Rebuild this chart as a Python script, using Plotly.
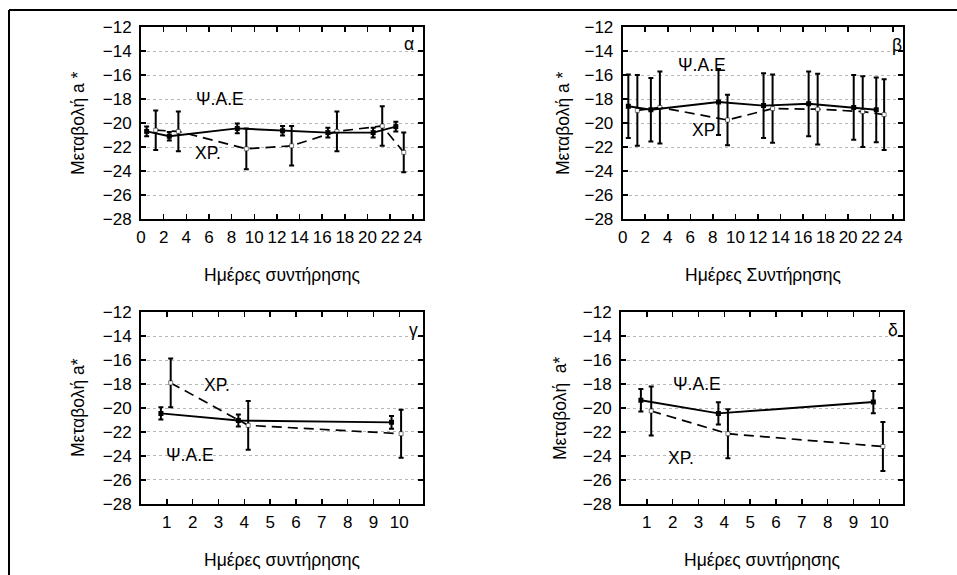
import plotly.graph_objects as go

W, H = 957, 575

# ---- data ----
a_psi_x = [0.5, 2.5, 8.5, 12.5, 16.5, 20.5, 22.5]
a_psi_y = [-20.7, -21.1, -20.45, -20.65, -20.8, -20.8, -20.3]
a_psi_e = [0.4, 0.35, 0.4, 0.4, 0.4, 0.4, 0.4]
a_xr_x = [1.3, 3.3, 9.3, 13.3, 17.3, 21.3, 23.2]
a_xr_y = [-20.6, -20.7, -22.15, -21.9, -20.7, -20.25, -22.45]
a_xr_e = [1.65, 1.65, 1.7, 1.65, 1.65, 1.65, 1.65]
b_psi_x = [0.5, 2.5, 8.5, 12.5, 16.5, 20.5, 22.5]
b_psi_y = [-18.6, -18.9, -18.25, -18.55, -18.4, -18.7, -18.9]
b_psi_e = [2.65, 2.65, 2.75, 2.7, 2.7, 2.7, 2.7]
b_xr_x = [1.3, 3.3, 9.3, 13.3, 17.3, 21.3, 23.2]
b_xr_y = [-18.95, -18.7, -19.75, -18.8, -18.85, -19.05, -19.3]
b_xr_e = [2.95, 3.0, 2.1, 2.85, 2.95, 2.95, 2.95]
g_psi_x = [0.77, 3.77, 9.7]
g_psi_y = [-20.45, -21.05, -21.2]
g_psi_e = [0.52, 0.5, 0.53]
g_xr_x = [1.15, 4.15, 10.07]
g_xr_y = [-17.9, -21.45, -22.15]
g_xr_e = [2.04, 2.03, 2.0]
d_psi_x = [0.77, 3.77, 9.77]
d_psi_y = [-19.35, -20.45, -19.5]
d_psi_e = [0.94, 0.93, 0.93]
d_xr_x = [1.17, 4.14, 10.14]
d_xr_y = [-20.25, -22.15, -23.22]
d_xr_e = [2.05, 2.05, 2.04]

y_ticks = [-12, -14, -16, -18, -20, -22, -24, -26, -28]
x_ticks_long = list(range(0, 25, 2))
x_ticks_short = list(range(1, 11))

label_psi = "Ψ.Α.Ε"
label_xr = "ΧΡ."

FONT = "Liberation Sans, Arial, sans-serif"

def px(x):
    return x / W

def py(y):
    return 1 - y / H

boxes = [
    (141, 423, 27, 219),
    (622.7, 903.3, 27, 219),
    (141, 423.3, 312.3, 503.7),
    (621, 903.3, 312.3, 503.7),
]

panels = [
    dict(psi=(a_psi_x, a_psi_y, a_psi_e), xr=(a_xr_x, a_xr_y, a_xr_e), long=True,
         letter="α", letter_pos=(23.7, -13.4),
         psi_lab=(7.0, -18.0), xr_lab=(5.9, -22.5),
         xtitle="Ημέρες συντήρησης", ytitle="Μεταβολή a *", ytx=78),
    dict(psi=(b_psi_x, b_psi_y, b_psi_e), xr=(b_xr_x, b_xr_y, b_xr_e), long=True,
         letter="β", letter_pos=(24.3, -13.5),
         psi_lab=(7.0, -15.2), xr_lab=(7.2, -20.6), xr_text="ΧΡ",
         xtitle="Ημέρες Συντήρησης", ytitle="Μεταβολή a *", ytx=563),
    dict(psi=(g_psi_x, g_psi_y, g_psi_e), xr=(g_xr_x, g_xr_y, g_xr_e), long=False,
         letter="γ", letter_pos=(10.55, -13.5),
         psi_lab=(1.9, -23.9), xr_lab=(2.93, -18.06),
         xtitle="Ημέρες συντήρησης", ytitle="Μεταβολή a*", ytx=78),
    dict(psi=(d_psi_x, d_psi_y, d_psi_e), xr=(d_xr_x, d_xr_y, d_xr_e), long=False,
         letter="δ", letter_pos=(10.55, -13.5),
         psi_lab=(2.94, -18.0), xr_lab=(2.33, -24.2),
         xtitle="Ημέρες συντήρησης", ytitle="Μεταβολή  a*", ytx=560),
]

fig = go.Figure()
annotations = []
layout = {}

for i, (p, box) in enumerate(zip(panels, boxes), start=1):
    sx = "" if i == 1 else str(i)
    xa, ya = "x" + sx, "y" + sx
    l, r, t, b = box
    xx, yy, ee = p["xr"]
    fig.add_trace(go.Scatter(
        x=xx, y=yy, xaxis=xa, yaxis=ya, mode="lines+markers",
        line=dict(color="black", width=1.7, dash="10px,6px"),
        marker=dict(symbol="square", size=4, color="white",
                    line=dict(color="black", width=0.5)),
        error_y=dict(type="data", array=ee, visible=True, color="black",
                     thickness=2, width=2.5),
        showlegend=False, hoverinfo="skip"))
    xx, yy, ee = p["psi"]
    fig.add_trace(go.Scatter(
        x=xx, y=yy, xaxis=xa, yaxis=ya, mode="lines+markers",
        line=dict(color="black", width=1.9),
        marker=dict(symbol="square", size=5, color="black"),
        error_y=dict(type="data", array=ee, visible=True, color="black",
                     thickness=2, width=2.5),
        showlegend=False, hoverinfo="skip"))

    if p["long"]:
        xcfg = dict(range=[0, 24.9], tickvals=x_ticks_long)
    else:
        xcfg = dict(range=[0, 10.93], tickvals=x_ticks_short)
    layout["xaxis" + sx] = dict(
        domain=[px(l), px(r)], anchor=ya, showgrid=False, zeroline=False,
        showline=True, linecolor="black", linewidth=2, mirror="ticks",
        ticks="inside", ticklen=5, tickwidth=1.5, tickcolor="black",
        ticklabelstandoff=2, automargin=False,
        tickfont=dict(size=17, color="black", family=FONT), **xcfg)
    layout["yaxis" + sx] = dict(
        domain=[py(b), py(t)], anchor=xa, range=[-28, -12], tickvals=y_ticks,
        showgrid=True, gridcolor="#b8b8b8", griddash="dot", gridwidth=1,
        zeroline=False, showline=True, linecolor="black", linewidth=2,
        mirror="ticks", ticks="inside", ticklen=5, tickwidth=1.5,
        tickcolor="black", ticklabelstandoff=4, automargin=False,
        tickfont=dict(size=17, color="black", family=FONT))

    tf = dict(size=17.5, color="black", family=FONT)
    annotations.append(dict(x=p["letter_pos"][0], y=p["letter_pos"][1], xref=xa, yref=ya,
                            text=p["letter"], showarrow=False, font=tf))
    annotations.append(dict(x=p["psi_lab"][0], y=p["psi_lab"][1], xref=xa, yref=ya,
                            text=label_psi, showarrow=False, font=tf))
    annotations.append(dict(x=p["xr_lab"][0], y=p["xr_lab"][1], xref=xa, yref=ya,
                            text=p.get("xr_text", label_xr), showarrow=False, font=tf))
    annotations.append(dict(x=px((l + r) / 2), y=py(b + 56), xref="paper", yref="paper",
                            text=p["xtitle"], showarrow=False, font=tf,
                            xanchor="center", yanchor="middle"))
    annotations.append(dict(x=px(p["ytx"]), y=py((t + b) / 2), xref="paper", yref="paper",
                            text=p["ytitle"], showarrow=False, font=tf, textangle=-90,
                            xanchor="center", yanchor="middle"))

shapes = [
    dict(type="line", xref="paper", yref="paper", x0=px(9), x1=1.01, y0=py(10), y1=py(10),
         line=dict(color="black", width=2)),
    dict(type="line", xref="paper", yref="paper", x0=px(9), x1=px(9), y0=py(10), y1=-0.01,
         line=dict(color="black", width=2)),
]

fig.update_layout(
    template="none",
    width=W, height=H, margin=dict(l=0, r=0, t=0, b=0, pad=0),
    paper_bgcolor="white", plot_bgcolor="white",
    font=dict(family=FONT, color="black"),
    annotations=annotations, shapes=shapes, **layout)

fig.write_html(
    "out.html",
    config={"displayModeBar": False, "staticPlot": True},
    post_script="document.body.style.margin='0';document.body.style.overflow='hidden';",
)
